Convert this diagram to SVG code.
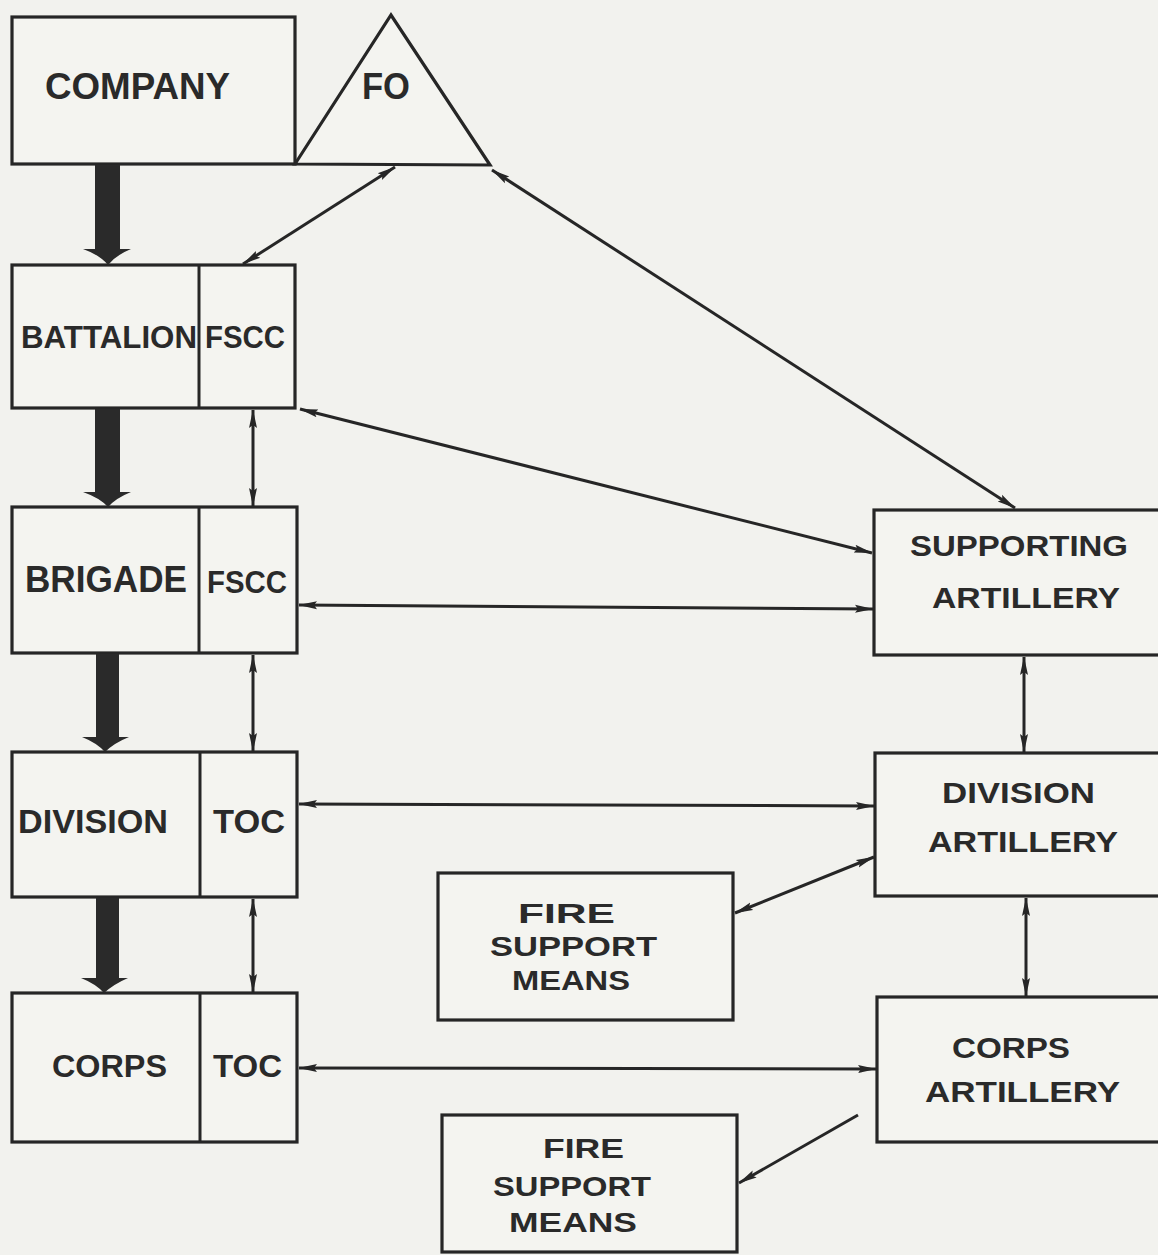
<svg xmlns="http://www.w3.org/2000/svg" width="1158" height="1255" viewBox="0 0 1158 1255">
<style>
.bg{fill:#f2f2ee}
.box{fill:#f4f4f0;stroke:#262626;stroke-width:3.2}
.div{stroke:#262626;stroke-width:3;fill:none}
.con{stroke:#262626;stroke-width:3;fill:none}
.thick{fill:#2a2a2a}
text{font-family:"Liberation Sans",Arial,sans-serif;fill:#2a2a2a;font-weight:bold}
</style>
<defs>
<marker id="ah" markerUnits="userSpaceOnUse" markerWidth="20" markerHeight="10" refX="18" refY="4.5" orient="auto-start-reverse" viewBox="0 0 20 9">
<path d="M0,0.5 L18.5,4.5 L0,8.5 L3,4.5 Z" fill="#262626"/>
</marker>
</defs>
<rect class="bg" x="0" y="0" width="1158" height="1255"/>

<g id="company">
<rect class="box" x="12" y="17" width="283" height="147"/>
<text x="45" y="99" font-size="36" textLength="185" lengthAdjust="spacingAndGlyphs">COMPANY</text>
</g>
<g id="fo">
<polygon class="box" points="295,164 391,15 490,165"/>
<text x="362" y="99" font-size="36" textLength="48" lengthAdjust="spacingAndGlyphs">FO</text>
</g>
<g id="battalion">
<rect class="box" x="12" y="265" width="283" height="143"/>
<line class="div" x1="199" y1="265" x2="199" y2="408"/>
<text x="21" y="348" font-size="32" textLength="176" lengthAdjust="spacingAndGlyphs">BATTALION</text>
<text x="205" y="348" font-size="32" textLength="80" lengthAdjust="spacingAndGlyphs">FSCC</text>
</g>
<g id="brigade">
<rect class="box" x="12" y="507" width="285" height="146"/>
<line class="div" x1="199" y1="507" x2="199" y2="653"/>
<text x="25" y="592" font-size="36" textLength="162" lengthAdjust="spacingAndGlyphs">BRIGADE</text>
<text x="207" y="593" font-size="32" textLength="80" lengthAdjust="spacingAndGlyphs">FSCC</text>
</g>
<g id="division">
<rect class="box" x="12" y="752" width="285" height="145"/>
<line class="div" x1="200" y1="752" x2="200" y2="897"/>
<text x="18" y="833" font-size="34" textLength="150" lengthAdjust="spacingAndGlyphs">DIVISION</text>
<text x="213" y="833" font-size="34" textLength="72" lengthAdjust="spacingAndGlyphs">TOC</text>
</g>
<g id="corps">
<rect class="box" x="12" y="993" width="285" height="149"/>
<line class="div" x1="200" y1="993" x2="200" y2="1142"/>
<text x="52" y="1077" font-size="32" textLength="115" lengthAdjust="spacingAndGlyphs">CORPS</text>
<text x="213" y="1077" font-size="32" textLength="69" lengthAdjust="spacingAndGlyphs">TOC</text>
</g>
<g id="supporting-artillery">
<rect class="box" x="874" y="510" width="300" height="145"/>
<text x="910" y="556" font-size="30" textLength="218" lengthAdjust="spacingAndGlyphs">SUPPORTING</text>
<text x="932" y="608" font-size="30" textLength="188" lengthAdjust="spacingAndGlyphs">ARTILLERY</text>
</g>
<g id="division-artillery">
<rect class="box" x="875" y="753" width="300" height="143"/>
<text x="942" y="803" font-size="30" textLength="153" lengthAdjust="spacingAndGlyphs">DIVISION</text>
<text x="928" y="852" font-size="30" textLength="190" lengthAdjust="spacingAndGlyphs">ARTILLERY</text>
</g>
<g id="corps-artillery">
<rect class="box" x="877" y="997" width="300" height="145"/>
<text x="952" y="1058" font-size="30" textLength="118" lengthAdjust="spacingAndGlyphs">CORPS</text>
<text x="925" y="1102" font-size="30" textLength="195" lengthAdjust="spacingAndGlyphs">ARTILLERY</text>
</g>
<g id="fire-support-means-1">
<rect class="box" x="438" y="873" width="295" height="147"/>
<text x="518" y="923" font-size="28" textLength="97" lengthAdjust="spacingAndGlyphs">FIRE</text>
<text x="490" y="956" font-size="28" textLength="167" lengthAdjust="spacingAndGlyphs">SUPPORT</text>
<text x="512" y="990" font-size="28" textLength="118" lengthAdjust="spacingAndGlyphs">MEANS</text>
</g>
<g id="fire-support-means-2">
<rect class="box" x="442" y="1115" width="295" height="137"/>
<text x="543" y="1158" font-size="28" textLength="81" lengthAdjust="spacingAndGlyphs">FIRE</text>
<text x="493" y="1196" font-size="28" textLength="158" lengthAdjust="spacingAndGlyphs">SUPPORT</text>
<text x="509" y="1232" font-size="28" textLength="128" lengthAdjust="spacingAndGlyphs">MEANS</text>
</g>

<g id="connectors">
<path class="thick" d="M95,165 L120,165 L120,249 L131,249 Q116,255 108,265 Q100,255 83,249 L95,249 Z"/>
<path class="thick" d="M95,409 L120,409 L120,492 L131,492 Q116,498 108,507 Q100,498 83,492 L95,492 Z"/>
<path class="thick" d="M96,654 L119,654 L119,737 L129,737 Q114,743 105,752 Q97,743 82,737 L96,737 Z"/>
<path class="thick" d="M96,898 L119,898 L119,978 L128,978 Q114,984 104,993 Q96,984 81,978 L96,978 Z"/>
<line class="con" x1="395" y1="167" x2="243" y2="264" marker-start="url(#ah)" marker-end="url(#ah)"/>
<line class="con" x1="492" y1="170" x2="1015" y2="508" marker-start="url(#ah)" marker-end="url(#ah)"/>
<line class="con" x1="300" y1="409" x2="872" y2="553" marker-start="url(#ah)" marker-end="url(#ah)"/>
<line class="con" x1="299" y1="605" x2="873" y2="609" marker-start="url(#ah)" marker-end="url(#ah)"/>
<line class="con" x1="253" y1="410" x2="253" y2="506" marker-start="url(#ah)" marker-end="url(#ah)"/>
<line class="con" x1="253" y1="655" x2="253" y2="751" marker-start="url(#ah)" marker-end="url(#ah)"/>
<line class="con" x1="253" y1="899" x2="253" y2="992" marker-start="url(#ah)" marker-end="url(#ah)"/>
<line class="con" x1="299" y1="804" x2="874" y2="806" marker-start="url(#ah)" marker-end="url(#ah)"/>
<line class="con" x1="735" y1="913" x2="874" y2="857" marker-start="url(#ah)" marker-end="url(#ah)"/>
<line class="con" x1="299" y1="1068" x2="876" y2="1069" marker-start="url(#ah)" marker-end="url(#ah)"/>
<line class="con" x1="1024" y1="657" x2="1024" y2="752" marker-start="url(#ah)" marker-end="url(#ah)"/>
<line class="con" x1="1026" y1="898" x2="1026" y2="996" marker-start="url(#ah)" marker-end="url(#ah)"/>
<line class="con" x1="858" y1="1115" x2="739" y2="1183" marker-end="url(#ah)"/>
</g>
</svg>
